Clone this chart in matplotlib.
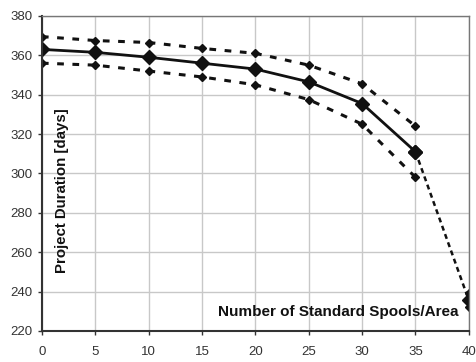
import matplotlib
matplotlib.use("Agg")
import matplotlib.pyplot as plt

plt.rcParams['font.family'] = ['Liberation Sans', 'DejaVu Sans']

# data
spools = [0, 5, 10, 15, 20, 25, 30, 35, 40]
mean_dur = [363, 361.5, 359, 356, 353, 346.5, 335.5, 311, 235.5]
upper_dur = [369.5, 367.5, 366.5, 363.5, 361, 355, 345.5, 324, 239]
lower_dur = [356, 355, 352, 349, 345, 337.5, 325, 298, 232]

fig = plt.figure(figsize=(4.76, 3.62), dpi=100)
ax = fig.add_axes([0.088, 0.086, 0.897, 0.870])

# upper / lower bounds, 0..35 dashed, 40 on its own
ax.plot(spools[:-1], upper_dur[:-1], ls=(0, (2.2, 2.8)), lw=2.2, color='#111111',
        marker='D', ms=4, dash_capstyle='butt')
ax.plot(spools[:-1], lower_dur[:-1], ls=(0, (2.2, 2.8)), lw=2.2, color='#111111',
        marker='D', ms=4, dash_capstyle='butt')
ax.plot(spools[-1:], upper_dur[-1:], ls='none', marker='D', ms=4, color='#111111')
ax.plot(spools[-1:], lower_dur[-1:], ls='none', marker='D', ms=4, color='#111111')

# mean line: solid to 35, dashed to 40
ax.plot(spools[:-1], mean_dur[:-1], '-', lw=2, color='#111111', marker='D', ms=7)
ax.plot(spools[-2:], mean_dur[-2:], ls=(0, (2, 1.5)), lw=1.8, color='#111111',
        marker='D', ms=7)

ax.set_xlim(0, 40)
ax.set_ylim(220, 380)
ax.set_xticks(range(0, 41, 5))
ax.set_yticks(range(220, 381, 20))
ax.grid(True, color='#c8c8c8', lw=1)
ax.set_axisbelow(True)
ax.tick_params(labelsize=9.5, colors='#333333', length=3, width=1, direction='out')
ax.tick_params(axis='x', pad=8)
ax.tick_params(axis='y', pad=4)

for s in ['top', 'right']:
    ax.spines[s].set_color('#777777')
    ax.spines[s].set_linewidth(1)
for s in ['left', 'bottom']:
    ax.spines[s].set_color('#333333')
    ax.spines[s].set_linewidth(1.5)

ax.text(1.85, 291, 'Project Duration [days]', rotation=90, ha='center', va='center',
        fontsize=10.8, fontweight='bold', color='#111111')
ax.text(39.0, 229.5, 'Number of Standard Spools/Area', ha='right', va='center',
        fontsize=11, fontweight='bold', color='#111111')

fig.savefig('out.png', dpi=100)
